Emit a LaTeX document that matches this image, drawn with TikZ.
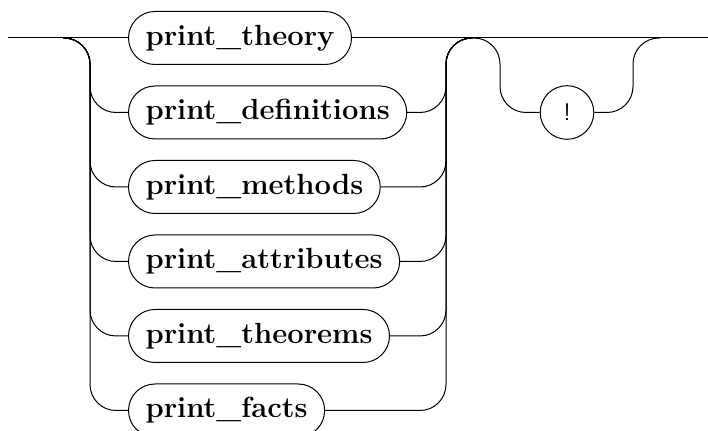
\documentclass[tikz,border=0pt]{standalone}
\usepackage{tikz}

\tikzset{
  term/.style={draw, rounded corners=13.25pt, minimum height=26.5pt, inner xsep=8.5pt, anchor=west,
    font=\fontsize{14.6}{17}\selectfont\bfseries},
  bang/.style={draw, circle, minimum size=26.8pt, inner sep=0pt, font=\fontsize{12}{14}\selectfont\sffamily},
  rail/.style={rounded corners=13pt}
}

\begin{document}
\begin{tikzpicture}[x=0.5pt, y=-0.5pt, line width=0.5pt]
    \clip (0,0) rectangle (708,431);

    % Choice of print commands
    \node[term] (theory) at (128,38) {print\_theory};
    \node[term] (defs) at (128,112.5) {print\_definitions};
    \node[term] (methods) at (128,187) {print\_methods};
    \node[term] (attrs) at (128,261.5) {print\_attributes};
    \node[term] (thms) at (128,336) {print\_theorems};
    \node[term] (facts) at (128,410.5) {print\_facts};

    % Optional bang
    \node[bang] (bang) at (567,112.5) {!};

    % Rails
    \coordinate (in) at (8,38);
    \coordinate (out) at (708,38);
    \coordinate (split) at (63,38);
    \coordinate (lbar) at (90,38);
    \coordinate (rbar) at (446,38);
    \coordinate (join) at (473,38);
    \coordinate (lloop) at (500,38);
    \coordinate (rloop) at (633,38);
    \coordinate (skip) at (660,38);

    \draw (in) -- (theory.west);
    \draw (theory.east) -- (out);

    % Left branches
    \draw[rail] (split) -| (lbar |- defs.west) -- (defs.west);
    \draw[rail] (split) -| (lbar |- methods.west) -- (methods.west);
    \draw[rail] (split) -| (lbar |- attrs.west) -- (attrs.west);
    \draw[rail] (split) -| (lbar |- thms.west) -- (thms.west);
    \draw[rail] (split) -| (lbar |- facts.west) -- (facts.west);

    % Right branches
    \draw[rail] (defs.east) -| (rbar) -- (join);
    \draw[rail] (methods.east) -| (rbar) -- (join);
    \draw[rail] (attrs.east) -| (rbar) -- (join);
    \draw[rail] (thms.east) -| (rbar) -- (join);
    \draw[rail] (facts.east) -| (rbar) -- (join);

    % Loop through the bang
    \draw[rail] (join) -| (lloop |- bang.west) -- (bang.west);
    \draw[rail] (bang.east) -| (rloop) -- (skip);
\end{tikzpicture}
\end{document}
